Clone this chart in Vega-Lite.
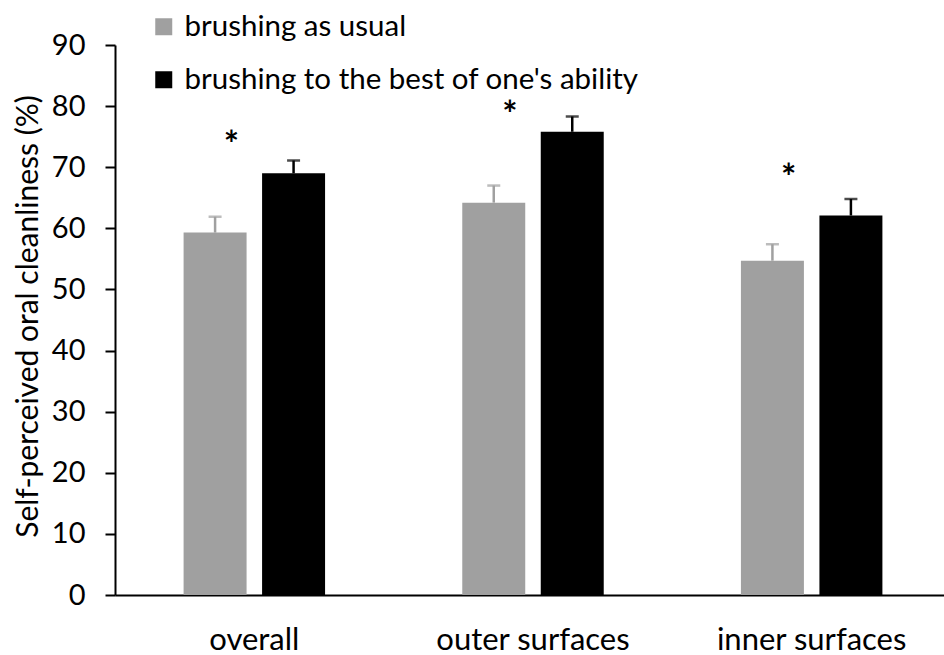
{
  "$schema": "https://vega.github.io/schema/vega-lite/v6.json",
  "width": 829,
  "height": 550,
  "autosize": {"type": "none"},
  "padding": {"left": 115, "top": 45, "right": 0, "bottom": 60},
  "background": "white",
  "config": {
    "font": "Lato",
    "view": {"stroke": null},
    "axis": {"labelFont": "Lato", "titleFont": "Lato", "labelColor": "#000", "titleColor": "#000"}
  },
  "datasets": {
    "bars": [
      {"site": "overall", "condition": "brushing as usual", "mean": 59.3, "upper": 61.9},
      {"site": "overall", "condition": "brushing to the best of one's ability", "mean": 69.0, "upper": 71.1},
      {"site": "outer surfaces", "condition": "brushing as usual", "mean": 64.2, "upper": 67.0},
      {"site": "outer surfaces", "condition": "brushing to the best of one's ability", "mean": 75.8, "upper": 78.3},
      {"site": "inner surfaces", "condition": "brushing as usual", "mean": 54.7, "upper": 57.4},
      {"site": "inner surfaces", "condition": "brushing to the best of one's ability", "mean": 62.1, "upper": 64.8}
    ],
    "stars": [
      {"site": "overall", "mark": "*", "pos": 74.9},
      {"site": "outer surfaces", "mark": "*", "pos": 79.9},
      {"site": "inner surfaces", "mark": "*", "pos": 69.5}
    ]
  },
  "encoding": {
    "x": {
      "field": "site",
      "type": "nominal",
      "sort": ["overall", "outer surfaces", "inner surfaces"],
      "scale": {"range": [0, 836], "paddingInner": 0, "paddingOuter": 0},
      "axis": {
        "title": null,
        "labelAngle": 0,
        "labelLimit": 0,
        "ticks": false,
        "tickSize": 0,
        "labelPadding": 30,
        "labelFontSize": 31,
        "domainColor": "#000",
        "domainWidth": 2
      }
    }
  },
  "layer": [
    {
      "data": {"name": "bars"},
      "mark": {"type": "bar"},
      "encoding": {
        "xOffset": {
          "field": "condition",
          "type": "nominal",
          "sort": ["brushing as usual", "brushing to the best of one's ability"],
          "scale": {"paddingInner": 0.1975, "paddingOuter": 0.874}
        },
        "y": {
          "field": "mean",
          "type": "quantitative",
          "scale": {"domain": [0, 90], "nice": false},
          "axis": {
            "values": [0, 10, 20, 30, 40, 50, 60, 70, 80, 90],
            "grid": false,
            "title": "Self-perceived oral cleanliness (%)",
            "titleFontSize": 30,
            "titleFontWeight": "normal",
            "titleX": -87,
            "titleY": 271,
            "titleBaseline": "middle",
            "titleAlign": "center",
            "labelFontSize": 29,
            "labelPadding": 20,
            "tickSize": 10,
            "tickColor": "#000",
            "tickWidth": 2,
            "domainColor": "#000",
            "domainWidth": 2
          }
        },
        "color": {
          "field": "condition",
          "type": "nominal",
          "scale": {
            "domain": ["brushing as usual", "brushing to the best of one's ability"],
            "range": ["#a0a0a0", "#000000"]
          },
          "legend": {
            "orient": "none",
            "legendX": 34,
            "legendY": -33,
            "title": null,
            "padding": 0,
            "symbolType": "square",
            "symbolSize": 289,
            "symbolStrokeWidth": 0,
            "labelFontSize": 29.5,
            "labelFont": "Lato",
            "labelColor": "#000",
            "labelOffset": 6,
            "labelLimit": 0,
            "rowPadding": 22
          }
        }
      }
    },
    {
      "data": {"name": "bars"},
      "mark": {"type": "rule", "strokeWidth": 2.5},
      "encoding": {
        "xOffset": {"field": "condition", "type": "nominal", "sort": ["brushing as usual", "brushing to the best of one's ability"]},
        "y": {"field": "mean", "type": "quantitative"},
        "y2": {"field": "upper"},
        "color": {"field": "condition", "type": "nominal", "legend": null}
      }
    },
    {
      "data": {"name": "bars"},
      "mark": {"type": "tick", "size": 13, "thickness": 2.5},
      "encoding": {
        "xOffset": {"field": "condition", "type": "nominal", "sort": ["brushing as usual", "brushing to the best of one's ability"]},
        "y": {"field": "upper", "type": "quantitative"},
        "color": {"field": "condition", "type": "nominal", "legend": null}
      }
    },
    {
      "data": {"name": "stars"},
      "mark": {"type": "text", "fontSize": 36, "fontWeight": "bold", "dx": -23, "dy": 9, "baseline": "middle", "color": "#000", "font": "Lato"},
      "encoding": {
        "y": {"field": "pos", "type": "quantitative"},
        "text": {"field": "mark"}
      }
    }
  ]
}
